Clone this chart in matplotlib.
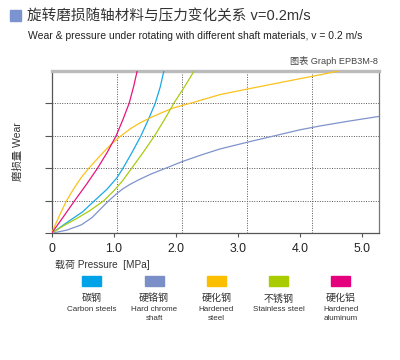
import matplotlib
matplotlib.use('Agg')
import matplotlib.pyplot as plt
from matplotlib.patches import Rectangle

plt.rcParams['font.family'] = ['Liberation Sans', 'Noto Sans CJK SC']

# Curves (pressure MPa, wear in grid units)
carbon_x = [0, 0.15, 0.3, 0.5, 0.69, 0.89, 1.05, 1.15, 1.3, 1.44, 1.56, 1.67, 1.75, 1.81]
carbon_y = [0, 0.2, 0.4, 0.66, 1.0, 1.35, 1.7, 2.0, 2.5, 3.0, 3.5, 4.0, 4.5, 5.0]

chrome_x = [0, 0.25, 0.48, 0.65, 0.8, 0.92, 1.05, 1.15, 1.26, 1.4, 1.6, 1.8, 2.1, 2.4,
            2.71, 3.2, 3.6, 4.0, 4.33, 4.8, 5.27]
chrome_y = [0, 0.1, 0.26, 0.48, 0.77, 1.0, 1.22, 1.37, 1.5, 1.64, 1.82, 1.97, 2.2, 2.4,
            2.59, 2.82, 3.0, 3.18, 3.3, 3.45, 3.59]

hard_x = [0, 0.05, 0.12, 0.24, 0.36, 0.48, 0.6, 0.78, 0.95, 1.1, 1.26, 1.42, 1.59, 1.78,
          1.96, 2.28, 2.71, 3.2, 3.6, 4.0, 4.33, 4.65]
hard_y = [0, 0.22, 0.52, 1.0, 1.38, 1.72, 2.0, 2.38, 2.72, 2.97, 3.2, 3.39, 3.55, 3.71,
          3.85, 4.02, 4.26, 4.45, 4.6, 4.75, 4.87, 5.0]

stainless_x = [0, 0.2, 0.4, 0.62, 0.84, 1.0, 1.15, 1.29, 1.48, 1.66, 1.82, 1.97, 2.14, 2.3]
stainless_y = [0, 0.24, 0.45, 0.7, 1.0, 1.3, 1.63, 2.0, 2.5, 3.0, 3.5, 4.0, 4.5, 5.0]

alu_x = [0, 0.18, 0.37, 0.56, 0.74, 0.9, 1.04, 1.15, 1.25, 1.32, 1.38]
alu_y = [0, 0.48, 1.0, 1.5, 2.0, 2.5, 3.0, 3.5, 4.0, 4.5, 5.0]

x_ticks = [0, 1, 2, 3, 4, 5]
x_ticklabels = ['0', '1.0', '2.0', '3.0', '4.0', '5.0']
v_grid = [1.05, 2.1, 3.15, 4.2]
h_grid = [1, 2, 3, 4]

names_cn = ['碳钢', '硬铬钢', '硬化钢', '不锈钢', '硬化铝']
names_en = ['Carbon steels', 'Hard chrome\nshaft', 'Hardened\nsteel', 'Stainless steel', 'Hardened\naluminum']
colors = ['#1aa8e8', '#7f93cc', '#fbc21a', '#a8cc10', '#e6147f']
swatch_colors = ['#00a2e8', '#7a8fc8', '#fbbf00', '#a8cc00', '#e5007e']

fig = plt.figure(figsize=(4, 3.6), dpi=100)
ax = fig.add_axes([0.129, 0.352, 0.818, 0.452])

series = [(carbon_x, carbon_y), (chrome_x, chrome_y), (hard_x, hard_y),
          (stainless_x, stainless_y), (alu_x, alu_y)]
for (xs, ys), c in zip(series, colors):
    ax.plot(xs, ys, color=c, lw=0.9, zorder=3, solid_joinstyle='round')

for gx in v_grid:
    ax.axvline(gx, color='#555555', lw=0.7, ls=(0, (1, 1.5)), zorder=1)
for gy in h_grid:
    ax.axhline(gy, color='#555555', lw=0.7, ls=(0, (1, 1.5)), zorder=1)

ax.set_xlim(0, 5.27)
ax.set_ylim(0, 5)
ax.set_xticks(x_ticks)
ax.set_xticklabels(x_ticklabels, fontsize=8.8, color='#222222')
ax.set_yticks([0] + h_grid)
ax.set_yticklabels([])
ax.tick_params(axis='x', direction='out', length=3, width=0.8, color='#555555', pad=4)
ax.tick_params(axis='y', direction='out', length=5, width=0.8, color='#555555')

for s in ['left', 'bottom']:
    ax.spines[s].set_color('#555555')
    ax.spines[s].set_linewidth(0.9)
ax.spines['right'].set_color('#777777')
ax.spines['right'].set_linewidth(0.9)
ax.spines['top'].set_color('#bbbbbb')
ax.spines['top'].set_linewidth(2.4)

ax.set_ylabel('磨损量 Wear', fontsize=7.5, color='#333333', labelpad=12)

# header
fig.patches.append(Rectangle((10 / 400, 1 - 21 / 360), 11 / 400, 11 / 360,
                             transform=fig.transFigure, color='#7b93cf'))
fig.text(27 / 400, 1 - 16 / 360, '旋转磨损随轴材料与压力变化关系 v=0.2m/s',
         fontsize=10.5, color='#333333', va='center', ha='left')
fig.text(28 / 400, 1 - 36 / 360,
         'Wear & pressure under rotating with different shaft materials, v = 0.2 m/s',
         fontsize=7.5, color='#222222', va='center', ha='left')
fig.text(378 / 400, 1 - 61 / 360, '图表 Graph EPB3M-8', fontsize=6.6,
         color='#444444', va='center', ha='right')

fig.text(55 / 400, 1 - 265 / 360, '载荷 Pressure  [MPa]', fontsize=7.2,
         color='#333333', va='center', ha='left')

# legend
for i in range(len(names_cn)):
    cx = (91.7 + i * 62.3) / 400
    fig.patches.append(Rectangle((cx - 9.5 / 400, 1 - 286 / 360), 19 / 400, 10 / 360,
                                 transform=fig.transFigure, color=swatch_colors[i]))
    fig.text(cx, 1 - 298.5 / 360, names_cn[i], fontsize=7.2, color='#333333',
             ha='center', va='center')
    fig.text(cx, 1 - 306 / 360, names_en[i], fontsize=5.8, color='#333333',
             ha='center', va='top', linespacing=1.45)

fig.savefig('out.png', dpi=100)
